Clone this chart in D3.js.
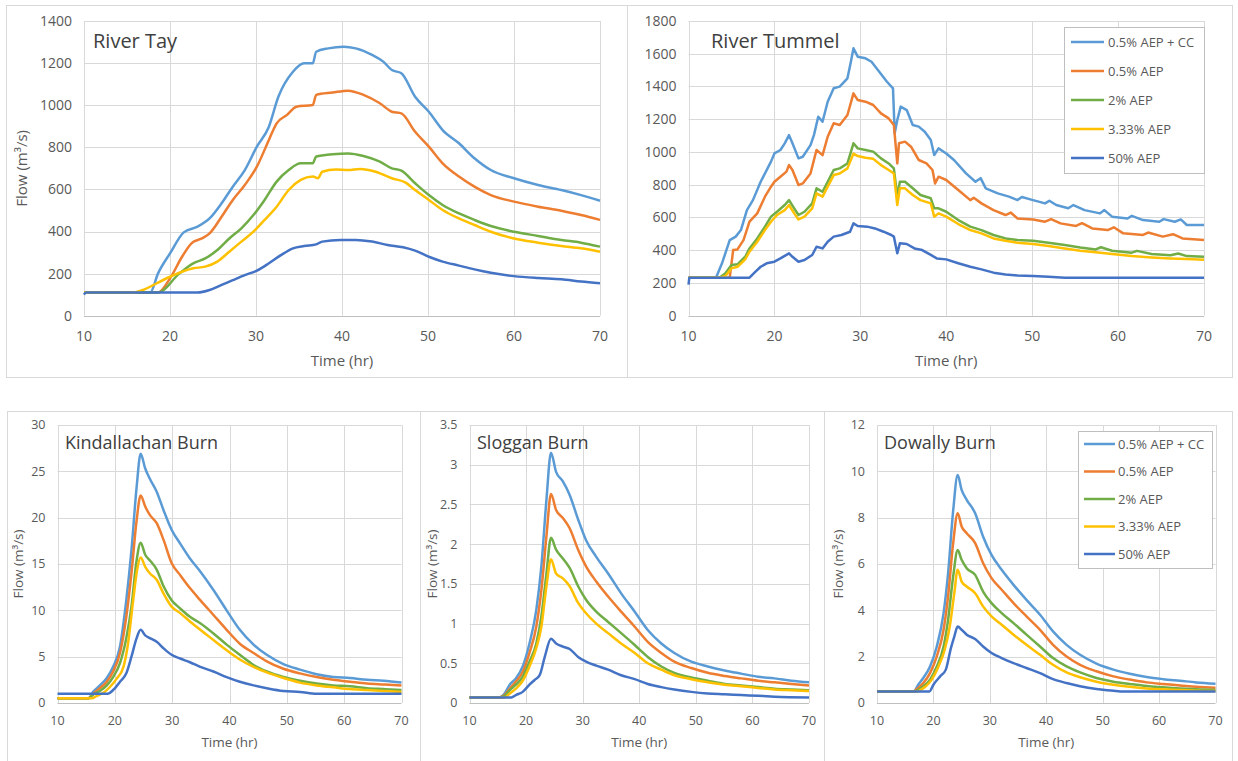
<!DOCTYPE html>
<html lang="en">
<head>
<meta charset="UTF-8">
<script src="https://d3js.org/d3.v7.min.js"></script>
<title>Flow hydrographs</title>
<style>
  body { margin: 0; background: #fff; }
  text { font-family: "Open Sans", "Noto Sans", sans-serif; }
</style>
</head>
<body>
<script>
// series names and colours (same for every panel)
const seriesNames = ['0.5% AEP + CC', '0.5% AEP', '2% AEP', '3.33% AEP', '50% AEP'];
const seriesColors = ['#5b9bd5', '#ed7d31', '#70ad47', '#ffc000', '#4472c4'];
const timeTicks = [10, 20, 30, 40, 50, 60, 70];

// River Tay [time hr, flow m3/s]
const tayCC = [[10,110],[17.7,110],[18.6,200],[20.0,296],[21.6,396],[23.2,423],[24.6,462],[26.0,534],[27.3,613],[28.7,692],[30.1,803],[31.5,898],[32.6,1040],[34.3,1159],[35.6,1199],[36.6,1199],[37.0,1254],[38.4,1270],[40.2,1278],[41.6,1270],[43.5,1239],[44.8,1207],[45.8,1167],[46.9,1152],[48.5,1040],[50.1,969],[51.7,882],[53.6,819],[55.4,748],[57.3,692],[60.0,653],[62.8,621],[65.5,597],[67.8,573],[70,546]];
const tayA = [[10,110],[18.6,110],[20.0,177],[21.4,280],[22.5,344],[23.7,367],[24.6,391],[26.0,470],[27.3,550],[28.7,621],[30.1,708],[31.5,835],[32.4,914],[33.6,954],[34.7,993],[36.6,1001],[37.0,1049],[38.9,1060],[40.7,1069],[42.5,1049],[44.4,1009],[45.8,969],[46.9,961],[48.5,874],[50.1,803],[51.7,724],[53.6,661],[55.4,613],[57.3,573],[60.0,542],[62.8,518],[65.5,499],[67.8,478],[70,455]];
const tay2 = [[10,110],[18.6,110],[21.1,201],[22.7,249],[24.1,272],[25.5,312],[26.9,367],[28.3,415],[29.7,478],[31.0,550],[32.4,637],[33.8,692],[35.2,724],[36.6,724],[37.0,756],[38.9,767],[40.7,771],[42.5,759],[44.4,732],[45.8,700],[46.9,689],[48.5,629],[50.1,573],[51.7,526],[53.6,486],[55.4,455],[57.3,426],[60.0,399],[62.8,379],[65.5,360],[67.8,347],[70,328]];
const tay333 = [[10,110],[15.4,110],[20.0,185],[21.4,209],[22.7,225],[24.1,233],[25.5,257],[26.9,304],[28.3,352],[29.7,399],[31.0,455],[32.4,518],[33.8,597],[35.2,645],[36.6,661],[37.2,653],[37.7,684],[39.3,695],[40.7,692],[42.1,697],[43.9,684],[45.8,653],[47.4,632],[48.5,597],[50.1,550],[51.7,502],[53.6,462],[55.4,431],[57.3,399],[60.0,367],[62.8,347],[65.5,331],[67.8,320],[70,304]];
const tay50 = [[10,100],[10.2,110],[23.2,110],[24.6,122],[26.0,146],[27.3,169],[28.7,193],[30.1,214],[31.5,249],[32.9,288],[34.3,320],[35.6,331],[37.0,339],[37.7,352],[39.8,360],[41.6,360],[43.5,352],[45.3,336],[47.1,325],[48.5,309],[50.1,280],[51.7,257],[53.6,238],[55.4,220],[57.3,204],[60.0,188],[62.8,179],[65.5,173],[67.8,162],[70,154]];

// River Tummel
const tumCC = [[10,232],[13.2,232],[13.9,320],[14.8,462],[15.5,483],[16.1,523],[16.8,645],[17.5,706],[18.4,818],[19.6,941],[20.0,991],[20.7,1012],[21.2,1053],[21.7,1103],[22.1,1053],[22.8,961],[23.3,971],[24.2,1042],[24.6,1103],[25.1,1215],[25.6,1185],[26.2,1307],[26.9,1389],[27.6,1399],[28.5,1450],[28.9,1551],[29.2,1633],[29.7,1582],[30.6,1572],[31.3,1551],[32.2,1490],[33.1,1429],[33.8,1389],[34.0,1114],[34.3,1195],[34.7,1277],[35.4,1256],[36.1,1165],[36.8,1155],[37.5,1124],[38.2,1073],[38.6,981],[39.1,1022],[40.0,991],[40.9,951],[42.3,869],[43.4,818],[44.0,840],[44.6,778],[46.0,747],[47.3,727],[48.3,706],[48.8,725],[50.1,706],[51.5,686],[52.0,702],[52.8,676],[54.2,656],[54.8,676],[56.1,645],[57.9,625],[58.4,645],[59.3,605],[61.1,594],[61.6,610],[62.9,584],[64.8,574],[65.3,590],[66.6,574],[67.3,588],[68.0,554],[70,554]];
const tumA = [[10,232],[14.8,232],[15.2,401],[15.7,405],[16.4,462],[17.1,574],[18.0,625],[18.9,727],[19.6,788],[20.0,818],[20.7,849],[21.4,880],[21.7,920],[22.1,890],[22.8,798],[23.3,808],[24.2,869],[24.9,1012],[25.6,981],[26.2,1093],[26.9,1175],[27.6,1165],[28.5,1226],[29.2,1358],[29.7,1317],[30.6,1307],[31.5,1287],[32.4,1236],[33.3,1205],[33.9,1165],[34.3,930],[34.5,1053],[35.2,1063],[35.9,1032],[36.8,951],[37.7,930],[38.4,890],[38.7,808],[39.1,849],[40.0,829],[41.4,768],[42.8,706],[43.2,720],[44.1,686],[45.5,645],[46.9,615],[47.5,630],[48.3,594],[50.1,588],[51.5,574],[52.2,590],[53.3,564],[55.1,548],[55.8,565],[57.0,533],[58.8,523],[59.5,540],[60.6,503],[62.9,493],[63.5,508],[65.2,483],[66.4,498],[67.5,472],[70,462]];
const tum2 = [[10,232],[13.6,232],[14.3,259],[15.0,309],[15.7,314],[16.6,360],[17.1,411],[18.0,472],[18.9,544],[19.6,605],[20.3,635],[21.2,676],[21.7,706],[22.3,656],[22.8,615],[23.5,635],[24.4,686],[24.9,778],[25.6,757],[26.2,818],[26.9,890],[27.6,900],[28.5,930],[29.2,1053],[29.7,1022],[30.6,1012],[31.5,1002],[32.4,961],[33.3,930],[33.9,900],[34.3,727],[34.6,818],[35.2,818],[36.1,778],[37.0,737],[38.2,717],[38.6,656],[39.1,656],[40.0,635],[41.4,584],[42.8,544],[44.1,523],[45.5,493],[46.9,472],[48.3,462],[50.1,458],[51.9,446],[53.8,432],[55.6,417],[57.4,405],[58.0,418],[59.3,397],[61.6,385],[62.2,396],[63.9,377],[66.1,369],[67.0,380],[68.0,364],[70,360]];
const tum333 = [[10,232],[13.6,232],[14.3,242],[15.0,289],[15.7,299],[16.6,344],[17.1,391],[18.0,452],[18.9,523],[19.6,574],[20.3,615],[21.2,645],[21.7,676],[22.3,625],[22.8,588],[23.5,605],[24.4,656],[24.9,747],[25.6,727],[26.2,788],[26.9,859],[27.6,869],[28.5,900],[29.2,990],[29.7,975],[30.6,965],[31.5,958],[32.4,920],[33.3,890],[33.9,869],[34.3,676],[34.6,778],[35.2,778],[36.1,737],[37.0,706],[38.2,686],[38.6,605],[39.1,625],[40.0,605],[41.4,560],[42.8,523],[44.1,503],[45.5,472],[46.9,458],[48.3,446],[50.1,438],[51.9,426],[53.8,411],[55.6,397],[57.4,387],[59.3,377],[61.6,364],[63.9,356],[66.1,350],[68.0,346],[70,342]];
const tum50 = [[10,190],[10.1,232],[17.1,232],[17.8,269],[18.4,299],[19.1,320],[20.0,330],[20.7,350],[21.7,381],[22.1,360],[22.8,330],[23.5,340],[24.4,371],[24.9,421],[25.6,411],[26.2,452],[26.9,483],[27.8,493],[28.8,513],[29.2,564],[29.7,548],[30.8,544],[31.7,533],[32.7,513],[33.6,493],[33.9,483],[34.3,381],[34.6,442],[35.4,438],[36.3,411],[37.2,401],[38.2,371],[38.9,350],[40.0,344],[41.4,320],[42.8,299],[44.1,283],[45.5,263],[46.9,252],[48.3,246],[50.1,242],[51.9,238],[53.8,232],[70,232]];

// Kindallachan Burn
const kinCC = [[10,0.5],[15.4,0.5],[16.2,1.2],[17.4,1.9],[18.6,2.7],[19.7,3.9],[20.9,6.1],[22.0,11.1],[22.9,16.5],[23.8,23.3],[24.5,26.9],[25.3,25.3],[26.1,24.2],[27.3,22.8],[28.5,20.8],[29.9,18.7],[31.4,17.2],[33.1,15.6],[34.9,14.2],[37.2,12.2],[39.5,10.0],[41.8,7.9],[44.2,6.3],[46.5,5.2],[49.4,4.2],[52.3,3.6],[55.2,3.1],[58.1,2.8],[61.0,2.7],[64.0,2.5],[66.9,2.4],[70,2.2]];
const kinA = [[10,0.5],[15.4,0.5],[16.2,1.0],[17.4,1.6],[18.6,2.3],[19.7,3.4],[20.9,5.4],[22.0,9.3],[22.9,14.0],[23.8,19.7],[24.5,22.4],[25.3,21.2],[26.1,20.3],[27.3,19.4],[28.5,17.6],[29.9,15.1],[31.4,13.8],[33.1,12.4],[34.9,11.1],[37.2,9.5],[39.5,7.9],[41.8,6.4],[44.2,5.4],[46.5,4.5],[49.4,3.7],[52.3,3.2],[55.2,2.8],[58.1,2.5],[61.0,2.3],[64.0,2.1],[66.9,2.0],[70,1.9]];
const kin2 = [[10,0.5],[15.4,0.5],[16.2,0.9],[17.4,1.3],[18.6,1.9],[19.7,2.8],[20.9,4.3],[22.0,7.0],[22.9,10.4],[23.8,15.4],[24.5,17.3],[25.3,16.0],[26.1,15.4],[27.3,14.4],[28.5,12.6],[29.9,11.1],[31.4,10.2],[33.1,9.3],[34.9,8.6],[37.2,7.5],[39.5,6.3],[41.8,5.2],[44.2,4.1],[46.5,3.4],[49.4,2.8],[52.3,2.4],[55.2,2.1],[58.1,1.9],[61.0,1.8],[64.0,1.6],[66.9,1.5],[70,1.4]];
const kin333 = [[10,0.5],[16.0,0.5],[16.8,0.75],[18.0,1.1],[19.1,1.7],[20.3,2.6],[21.5,3.9],[22.3,6.4],[23.2,11.1],[23.9,14.4],[24.5,15.7],[25.3,14.7],[26.1,14.0],[27.3,13.3],[28.5,11.8],[29.9,10.4],[31.4,9.7],[33.1,8.8],[34.9,7.9],[37.2,6.8],[39.5,5.7],[41.8,4.7],[44.2,3.9],[46.5,3.3],[49.4,2.7],[52.3,2.2],[55.2,1.9],[58.1,1.7],[61.0,1.5],[64.0,1.4],[66.9,1.3],[70,1.2]];
const kin50 = [[10,1.0],[18.8,1.0],[19.7,1.4],[20.9,2.3],[22.0,3.2],[22.9,5.0],[23.8,7.0],[24.5,7.9],[25.3,7.3],[26.1,7.0],[27.3,6.6],[28.5,5.9],[29.9,5.2],[31.4,4.8],[33.1,4.4],[34.9,3.9],[37.2,3.4],[39.5,2.8],[41.8,2.3],[44.2,1.9],[46.5,1.6],[49.4,1.3],[52.3,1.2],[55.2,1.0],[70,1.0]];

// Sloggan Burn
const sloCC = [[10,0.07],[15.2,0.07],[16.2,0.12],[17.1,0.23],[18.2,0.31],[19.4,0.46],[20.6,0.75],[21.8,1.17],[22.7,1.72],[23.6,2.56],[24.4,3.15],[25.3,2.91],[26.5,2.79],[27.7,2.62],[29.2,2.31],[30.6,2.05],[32.4,1.84],[34.5,1.63],[36.8,1.38],[39.2,1.15],[41.5,0.92],[43.9,0.75],[46.2,0.63],[49.2,0.52],[52.1,0.46],[55.1,0.41],[58.0,0.37],[61.0,0.33],[63.9,0.31],[66.9,0.28],[70,0.26]];
const sloA = [[10,0.07],[15.2,0.07],[16.2,0.10],[17.1,0.18],[18.2,0.27],[19.4,0.39],[20.6,0.63],[21.8,0.96],[22.7,1.42],[23.6,2.10],[24.4,2.63],[25.3,2.43],[26.5,2.33],[27.7,2.20],[29.2,1.93],[30.6,1.72],[32.4,1.53],[34.5,1.34],[36.8,1.15],[39.2,0.96],[41.5,0.77],[43.9,0.63],[46.2,0.52],[49.2,0.44],[52.1,0.38],[55.1,0.34],[58.0,0.31],[61.0,0.28],[63.9,0.26],[66.9,0.24],[70,0.22]];
const slo2 = [[10,0.07],[15.2,0.07],[16.2,0.09],[17.1,0.16],[18.2,0.23],[19.4,0.33],[20.6,0.52],[21.8,0.75],[22.7,1.09],[23.6,1.63],[24.4,2.08],[25.3,1.93],[26.5,1.82],[27.7,1.70],[29.2,1.47],[30.6,1.30],[32.4,1.15],[34.5,1.02],[36.8,0.88],[39.2,0.73],[41.5,0.58],[43.9,0.46],[46.2,0.38],[49.2,0.32],[52.1,0.28],[55.1,0.24],[58.0,0.22],[61.0,0.20],[63.9,0.18],[66.9,0.17],[70,0.16]];
const slo333 = [[10,0.07],[16.2,0.07],[17.1,0.12],[18.2,0.18],[19.4,0.28],[20.6,0.46],[21.8,0.69],[22.7,0.96],[23.6,1.47],[24.4,1.81],[25.3,1.63],[26.5,1.57],[27.7,1.47],[29.2,1.26],[30.6,1.13],[32.4,1.00],[34.5,0.88],[36.8,0.75],[39.2,0.63],[41.5,0.50],[43.9,0.42],[46.2,0.35],[49.2,0.30],[52.1,0.26],[55.1,0.23],[58.0,0.21],[61.0,0.19],[63.9,0.17],[66.9,0.16],[70,0.15]];
const slo50 = [[10,0.07],[17.4,0.07],[18.2,0.10],[19.4,0.14],[20.6,0.23],[21.5,0.29],[22.4,0.35],[23.3,0.58],[24.4,0.81],[25.3,0.75],[26.5,0.71],[27.7,0.68],[29.2,0.58],[30.6,0.52],[32.4,0.47],[34.5,0.42],[36.8,0.35],[39.2,0.30],[41.5,0.24],[43.9,0.20],[46.2,0.17],[49.2,0.14],[52.1,0.12],[55.1,0.11],[58.0,0.10],[61.0,0.09],[63.9,0.08],[70,0.07]];

// Dowally Burn
const dowCC = [[10,0.5],[16.5,0.5],[17.3,0.79],[18.2,1.08],[19.4,1.58],[20.6,2.44],[21.8,3.88],[22.6,5.6],[23.5,8.3],[24.3,9.84],[25.0,9.2],[25.9,8.77],[27.4,8.19],[28.8,7.19],[30.3,6.39],[32.1,5.75],[34.2,5.10],[36.5,4.45],[38.9,3.81],[41.2,3.09],[43.6,2.51],[46.0,2.08],[48.9,1.70],[51.9,1.44],[54.8,1.26],[57.8,1.12],[60.7,1.03],[63.7,0.96],[66.6,0.89],[70,0.83]];
const dowA = [[10,0.5],[16.5,0.5],[17.3,0.65],[18.2,0.86],[19.4,1.29],[20.6,2.01],[21.8,3.16],[22.6,4.6],[23.5,6.9],[24.3,8.19],[25.0,7.62],[25.9,7.33],[27.4,6.9],[28.8,6.04],[30.3,5.39],[32.1,4.89],[34.2,4.31],[36.5,3.74],[38.9,3.16],[41.2,2.51],[43.6,2.01],[46.0,1.65],[48.9,1.37],[51.9,1.15],[54.8,1.01],[57.8,0.89],[60.7,0.82],[63.7,0.76],[66.6,0.70],[70,0.66]];
const dow2 = [[10,0.5],[16.7,0.5],[17.3,0.57],[18.2,0.72],[19.4,1.01],[20.6,1.58],[21.8,2.44],[22.6,3.59],[23.5,5.46],[24.3,6.6],[25.0,6.18],[25.9,5.82],[27.4,5.53],[28.8,4.81],[30.3,4.31],[32.1,3.88],[34.2,3.45],[36.5,2.95],[38.9,2.44],[41.2,1.94],[43.6,1.58],[46.0,1.32],[48.9,1.08],[51.9,0.92],[54.8,0.82],[57.8,0.73],[60.7,0.68],[63.7,0.63],[66.6,0.59],[70,0.56]];
const dow333 = [[10,0.5],[17.2,0.5],[17.6,0.55],[18.5,0.69],[19.7,1.01],[20.9,1.58],[22.0,2.30],[22.9,3.30],[23.7,4.74],[24.3,5.75],[25.0,5.24],[25.9,5.03],[27.4,4.74],[28.8,4.17],[30.3,3.74],[32.1,3.38],[34.2,2.95],[36.5,2.51],[38.9,2.08],[41.2,1.65],[43.6,1.32],[46.0,1.11],[48.9,0.92],[51.9,0.79],[54.8,0.70],[57.8,0.63],[60.7,0.59],[63.7,0.56],[66.6,0.53],[70,0.52]];
const dow50 = [[10,0.5],[19.3,0.5],[20.0,0.79],[21.2,1.15],[22.2,1.44],[23.1,2.37],[23.7,2.87],[24.3,3.30],[25.0,3.16],[25.9,2.95],[27.4,2.76],[28.8,2.44],[30.3,2.16],[32.1,1.94],[34.2,1.72],[36.5,1.51],[38.9,1.29],[41.2,1.03],[43.6,0.86],[46.0,0.72],[48.9,0.60],[51.9,0.53],[53.1,0.50],[70,0.5]];

const tayTicks = [0, 200, 400, 600, 800, 1000, 1200, 1400];
const tumTicks = [0, 200, 400, 600, 800, 1000, 1200, 1400, 1600, 1800];
const kinTicks = [0, 5, 10, 15, 20, 25, 30];
const sloTicks = [0, 0.5, 1, 1.5, 2, 2.5, 3, 3.5];
const dowTicks = [0, 2, 4, 6, 8, 10, 12];

// layout of the five panels
const panels = [
  { title: 'River Tay', series: [tayCC, tayA, tay2, tay333, tay50], yTicks: tayTicks,
    box: [6, 5, 627, 377], plot: [84, 21, 600, 315.7], big: true, titleX: 93, yTitle: 22, curve: d3.curveMonotoneX },
  { title: 'River Tummel', series: [tumCC, tumA, tum2, tum333, tum50], yTicks: tumTicks,
    box: [627, 5, 1232, 377], plot: [688.5, 21, 1204, 315.7], big: true, titleX: 711, curve: d3.curveLinear,
    legend: { x: 1064, y: 27, w: 140, h: 146, y0: 42, dy: 29, lx0: 1071, lx1: 1104, tx: 1108 } },
  { title: 'Kindallachan Burn', series: [kinCC, kinA, kin2, kin333, kin50], yTicks: kinTicks,
    box: [7, 411, 420, 764], plot: [57.5, 425, 401.5, 703], titleX: 65, yTitle: 18, curve: d3.curveMonotoneX },
  { title: 'Sloggan Burn', series: [sloCC, sloA, slo2, slo333, slo50], yTicks: sloTicks,
    box: [420, 411, 824, 764], plot: [469.5, 425, 809, 703], titleX: 477, yTitle: 432, curve: d3.curveMonotoneX },
  { title: 'Dowally Burn', series: [dowCC, dowA, dow2, dow333, dow50], yTicks: dowTicks,
    box: [824, 411, 1232, 764], plot: [877, 425, 1215.5, 703], titleX: 884, yTitle: 838, curve: d3.curveMonotoneX,
    legend: { x: 1078, y: 431, w: 134, h: 137, y0: 444, dy: 27.5, lx0: 1084, lx1: 1115, tx: 1118 } }
];

const svg = d3.select('body').append('svg')
  .attr('width', 1238)
  .attr('height', 761);

panels.forEach(p => {
  const [l, t, r, b] = p.plot;
  const yMax = p.yTicks[p.yTicks.length - 1];
  const x = d3.scaleLinear().domain([10, 70]).range([l, r]);
  const y = d3.scaleLinear().domain([0, yMax]).range([b, t]);
  const g = svg.append('g');
  const tickSize = p.big ? 14 : 12.5;

  // panel frame
  g.append('rect')
    .attr('x', p.box[0] + 0.5).attr('y', p.box[1] + 0.5)
    .attr('width', p.box[2] - p.box[0]).attr('height', p.box[3] - p.box[1])
    .attr('fill', 'none').attr('stroke', '#d9d9d9');

  // gridlines
  g.selectAll('.hgrid').data(p.yTicks.slice(1)).enter().append('line')
    .attr('x1', l).attr('x2', r)
    .attr('y1', d => Math.round(y(d)) + 0.5).attr('y2', d => Math.round(y(d)) + 0.5)
    .attr('stroke', '#d9d9d9');
  g.selectAll('.vgrid').data(timeTicks).enter().append('line')
    .attr('x1', d => Math.round(x(d)) + 0.5).attr('x2', d => Math.round(x(d)) + 0.5)
    .attr('y1', t).attr('y2', b)
    .attr('stroke', '#d9d9d9');
  g.append('line')
    .attr('x1', l).attr('x2', r)
    .attr('y1', Math.round(b) + 0.5).attr('y2', Math.round(b) + 0.5)
    .attr('stroke', '#bfbfbf');

  // tick labels
  g.selectAll('.ylab').data(p.yTicks).enter().append('text')
    .attr('x', l - 12).attr('y', d => y(d))
    .attr('dy', '0.35em').attr('text-anchor', 'end')
    .attr('font-size', tickSize).attr('fill', '#595959')
    .text(d => d3.format('~g')(d));
  g.selectAll('.xlab').data(timeTicks).enter().append('text')
    .attr('x', d => x(d)).attr('y', b + (p.big ? 25 : 22))
    .attr('text-anchor', 'middle')
    .attr('font-size', tickSize).attr('fill', '#595959')
    .text(d => d);

  // axis titles
  g.append('text')
    .attr('x', (l + r) / 2).attr('y', b + (p.big ? 50 : 44))
    .attr('text-anchor', 'middle')
    .attr('font-size', p.big ? 15 : 13.5).attr('fill', '#595959')
    .text('Time (hr)');
  if (p.yTitle) {
    g.append('text')
      .attr('transform', `translate(${p.yTitle},${(t + b) / 2}) rotate(-90)`)
      .attr('dy', '0.35em').attr('text-anchor', 'middle')
      .attr('font-size', p.big ? 15 : 13.5).attr('fill', '#595959')
      .text('Flow (m³/s)');
  }

  // chart title
  g.append('text')
    .attr('x', p.titleX).attr('y', t + (p.big ? 27 : 24))
    .attr('font-size', p.big ? 20 : 18).attr('fill', '#404040')
    .text(p.title);

  // series lines
  const line = d3.line().x(d => x(d[0])).y(d => y(d[1])).curve(p.curve);
  p.series.forEach((s, i) => {
    g.append('path')
      .datum(s)
      .attr('d', line)
      .attr('fill', 'none')
      .attr('stroke', seriesColors[i])
      .attr('stroke-width', 2.5)
      .attr('stroke-linejoin', 'round');
  });

  // legend
  if (p.legend) {
    const lg = p.legend;
    g.append('rect')
      .attr('x', lg.x + 0.5).attr('y', lg.y + 0.5)
      .attr('width', lg.w).attr('height', lg.h)
      .attr('fill', '#fff').attr('stroke', '#bfbfbf');
    seriesNames.forEach((name, i) => {
      const yy = lg.y0 + i * lg.dy;
      g.append('line')
        .attr('x1', lg.lx0).attr('x2', lg.lx1)
        .attr('y1', yy).attr('y2', yy)
        .attr('stroke', seriesColors[i]).attr('stroke-width', 2.5);
      g.append('text')
        .attr('x', lg.tx).attr('y', yy).attr('dy', '0.35em')
        .attr('font-size', 13).attr('fill', '#595959')
        .text(name);
    });
  }
});
</script>
</body>
</html>
